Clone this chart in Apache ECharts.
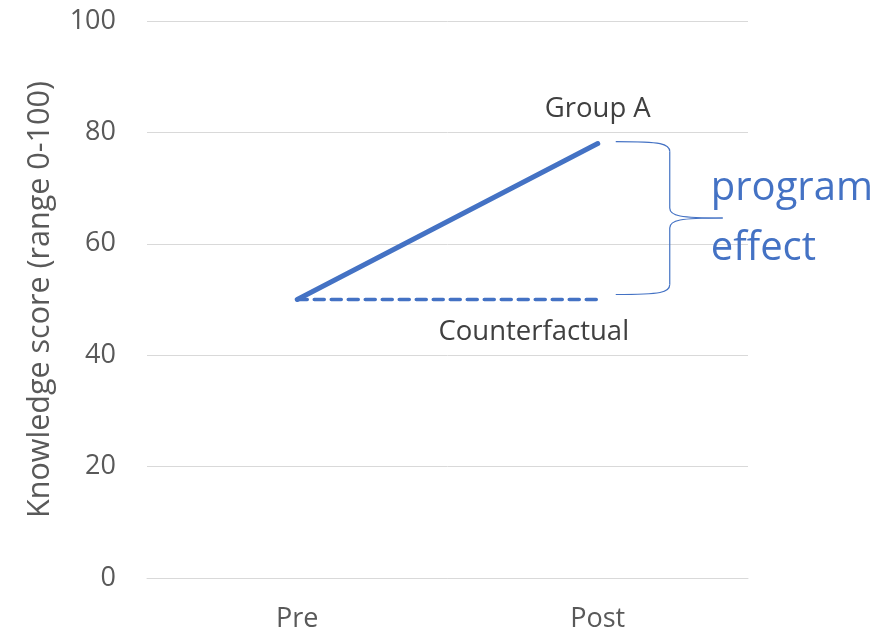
<!DOCTYPE html>
<html>
<head>
<meta charset="utf-8">
<script src="https://cdn.jsdelivr.net/npm/echarts@6/dist/echarts.min.js"></script>
<style>html,body{margin:0;padding:0;background:#fff}#chart{width:884px;height:634px}</style>
</head>
<body>
<div id="chart"></div>
<script>
// Knowledge score before and after the program
const categories = ['Pre', 'Post'];
const groupA = [50, 78];
const counterfactual = [50, 50];
const yTicks = [0, 20, 40, 60, 80, 100];

const BLUE = '#4472C4';
const GREY = '#595959';
const FONT = '"Open Sans", "Liberation Sans", sans-serif';

const chart = echarts.init(document.getElementById('chart'));

function endLabel(text, pos, offset) {
  return {
    show: true, position: pos, offset: offset,
    formatter: text, color: '#404040', fontSize: 27.5, fontFamily: FONT
  };
}

chart.setOption({
  animation: false,
  grid: { left: 147, right: 136, top: 21, bottom: 56 },
  xAxis: {
    type: 'category',
    data: categories,
    axisLine: { show: true, lineStyle: { color: '#D9D9D9', width: 1 } },
    axisTick: { show: false },
    axisLabel: { color: GREY, fontSize: 27, fontFamily: FONT, margin: 28 }
  },
  yAxis: {
    type: 'value',
    min: yTicks[0],
    max: yTicks[yTicks.length - 1],
    interval: 20,
    name: 'Knowledge score (range 0-100)',
    nameLocation: 'middle',
    nameGap: 91,
    nameTextStyle: { color: GREY, fontSize: 30.5, fontFamily: FONT },
    axisLine: { show: false },
    axisTick: { show: false },
    axisLabel: { color: GREY, fontSize: 27, fontFamily: FONT, margin: 31 },
    splitLine: { lineStyle: { color: '#D9D9D9', width: 1 } }
  },
  series: [
    {
      name: 'Counterfactual',
      type: 'line',
      data: counterfactual.map((v, i) => i === 1
        ? { value: v, label: endLabel('Counterfactual', 'bottom', [-64, 13]) }
        : v),
      symbol: 'circle',
      symbolSize: 1,
      showSymbol: true,
      itemStyle: { color: 'rgba(0,0,0,0)' },
      lineStyle: { color: BLUE, width: 3.5, type: [10, 7], cap: 'round' },
      z: 2
    },
    {
      name: 'Group A',
      type: 'line',
      data: groupA.map((v, i) => i === 1
        ? { value: v, label: endLabel('Group A', 'top', [0, -15]) }
        : v),
      symbol: 'circle',
      symbolSize: 1,
      showSymbol: true,
      itemStyle: { color: 'rgba(0,0,0,0)' },
      lineStyle: { color: BLUE, width: 5, cap: 'round' },
      z: 3
    }
  ]
});

// Curly brace spanning the gap between Group A and the counterfactual at Post
const ptHigh = chart.convertToPixel({ xAxisIndex: 0, yAxisIndex: 0 }, [1, groupA[1]]);
const ptLow = chart.convertToPixel({ xAxisIndex: 0, yAxisIndex: 0 }, [1, counterfactual[1]]);
const x0 = ptHigh[0] + 18, xv = ptHigh[0] + 72, xt = ptHigh[0] + 125;
const y0 = ptHigh[1] - 2, y1 = ptLow[1] - 5, ym = (y0 + y1) / 2;
const braceStyle = { stroke: BLUE, lineWidth: 1.2, fill: null };

function curve(a, b, c1, c2) {
  return {
    type: 'bezierCurve',
    shape: { x1: a[0], y1: a[1], x2: b[0], y2: b[1], cpx1: c1[0], cpy1: c1[1], cpx2: c2[0], cpy2: c2[1] },
    style: braceStyle
  };
}
function seg(a, b) {
  return { type: 'line', shape: { x1: a[0], y1: a[1], x2: b[0], y2: b[1] }, style: braceStyle };
}

chart.setOption({
  graphic: [
    curve([x0, y0], [xv, y0 + 10], [xv - 8, y0], [xv, y0 + 2]),
    seg([xv, y0 + 10], [xv, ym - 10]),
    curve([xv, ym - 10], [xt, ym], [xv, ym - 2], [xv + 10, ym]),
    curve([xv, ym + 10], [xt, ym], [xv, ym + 2], [xv + 10, ym]),
    seg([xv, ym + 10], [xv, y1 - 10]),
    curve([x0, y1], [xv, y1 - 10], [xv - 8, y1], [xv, y1 - 2]),
    {
      type: 'text',
      x: xt - 12,
      y: ym - 59,
      style: {
        text: 'program\neffect',
        fill: BLUE,
        font: `40px ${FONT}`,
        lineHeight: 60
      }
    }
  ]
});
</script>
</body>
</html>
